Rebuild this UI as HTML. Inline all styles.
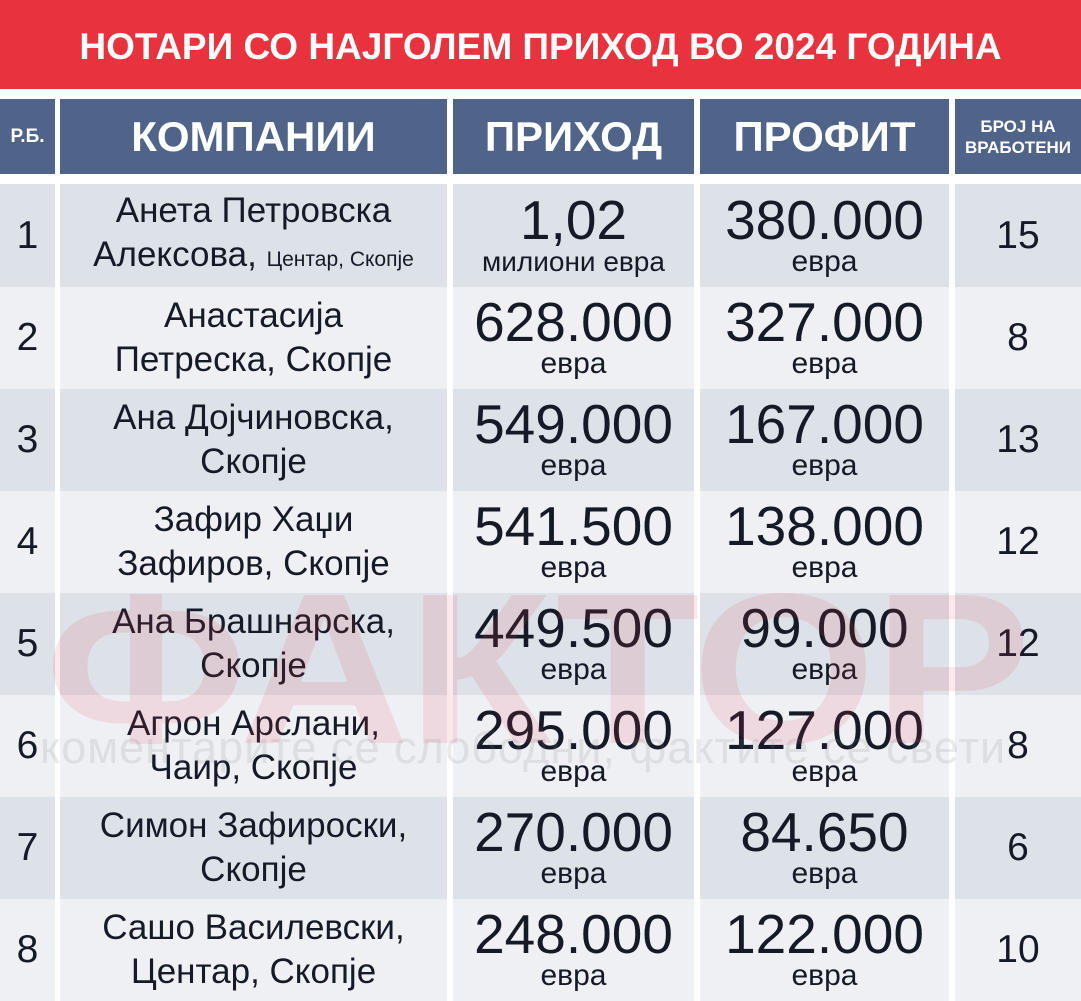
<!DOCTYPE html>
<html><head><meta charset="utf-8"><style>
*{margin:0;padding:0;box-sizing:border-box}
body{width:1081px;height:1000px;background:#fff;font-family:"Liberation Sans","DejaVu Sans",sans-serif;position:relative;overflow:hidden;color:#161a26}
.title{position:absolute;left:0;top:0;width:1081px;height:89px;background:#e8333f;color:#fff;font-weight:bold;font-size:37px;text-align:center;line-height:94px;white-space:nowrap}
.c{position:absolute;display:flex;flex-direction:column;justify-content:center;align-items:center;text-align:center;white-space:nowrap}
.h{background:#50648a;color:#fff;font-weight:bold}
.o{background:#dde1e8}.e{background:#eef0f4}
.nm{font-size:35px;line-height:44px}
.big{font-size:55px;line-height:52px}
.sm{font-size:30px;line-height:32px}
.num{font-size:39px}
.wm{position:absolute;left:45px;top:545px;font-size:215px;font-weight:bold;color:rgba(230,60,70,0.12);letter-spacing:-2px;white-space:nowrap;transform:scaleX(1.1);transform-origin:left top}
.wm2{position:absolute;left:40px;top:722px;font-size:45px;color:rgba(120,120,130,0.15);letter-spacing:1px;white-space:nowrap}
</style></head><body>
<div class="title">НОТАРИ СО НАЈГОЛЕМ ПРИХОД ВО 2024 ГОДИНА</div>
<div class="c h" style="left:0;top:99px;width:55px;height:75px;font-size:19px">Р.Б.</div>
<div class="c h" style="left:60px;top:99px;width:387px;height:75px;font-size:42px">КОМПАНИИ</div>
<div class="c h" style="left:453px;top:99px;width:241px;height:75px;font-size:42px">ПРИХОД</div>
<div class="c h" style="left:700px;top:99px;width:249px;height:75px;font-size:42px">ПРОФИТ</div>
<div class="c h" style="left:955px;top:99px;width:126px;height:75px;font-size:17px;line-height:21px">БРОЈ НА<br>ВРАБОТЕНИ</div>
<div id="rows"></div>
<div class="wm">ФАКТОР</div>
<div class="wm2">коментарите се слободни, фактите се свети</div>
<script>
var d=[["1","Анета Петровска<br>Алексова, <span style='font-size:21px'>Центар, Скопје</span>","1,02","милиони евра","380.000","15"],
["2","Анастасија<br>Петреска, Скопје","628.000","евра","327.000","8"],
["3","Ана Дојчиновска,<br>Скопје","549.000","евра","167.000","13"],
["4","Зафир Хаџи<br>Зафиров, Скопје","541.500","евра","138.000","12"],
["5","Ана Брашнарска,<br>Скопје","449.500","евра","99.000","12"],
["6","Агрон Арслани,<br>Чаир, Скопје","295.000","евра","127.000","8"],
["7","Симон Зафироски,<br>Скопје","270.000","евра","84.650","6"],
["8","Сашо Василевски,<br>Центар, Скопје","248.000","евра","122.000","10"]];
var h="",tops=[184,287,389,491,593,695,797,899,1001];
d.forEach(function(r,i){var t=tops[i],hh=tops[i+1]-t,cl=i%2?"e":"o";
h+='<div class="c '+cl+' num" style="left:0;top:'+t+'px;width:55px;height:'+hh+'px">'+r[0]+'</div>';
h+='<div class="c '+cl+' nm" style="left:60px;top:'+t+'px;width:387px;height:'+hh+'px"><div>'+r[1]+'</div></div>';
h+='<div class="c '+cl+'" style="left:453px;top:'+t+'px;width:241px;height:'+hh+'px"><div class="big">'+r[2]+'</div><div class="sm"'+(i==0?' style="font-size:28px"':'')+'>'+r[3]+'</div></div>';
h+='<div class="c '+cl+'" style="left:700px;top:'+t+'px;width:249px;height:'+hh+'px"><div class="big">'+r[4]+'</div><div class="sm">евра</div></div>';
h+='<div class="c '+cl+' num" style="left:955px;top:'+t+'px;width:126px;height:'+hh+'px">'+r[5]+'</div>';});
document.getElementById("rows").innerHTML=h;
</script>
</body></html>
